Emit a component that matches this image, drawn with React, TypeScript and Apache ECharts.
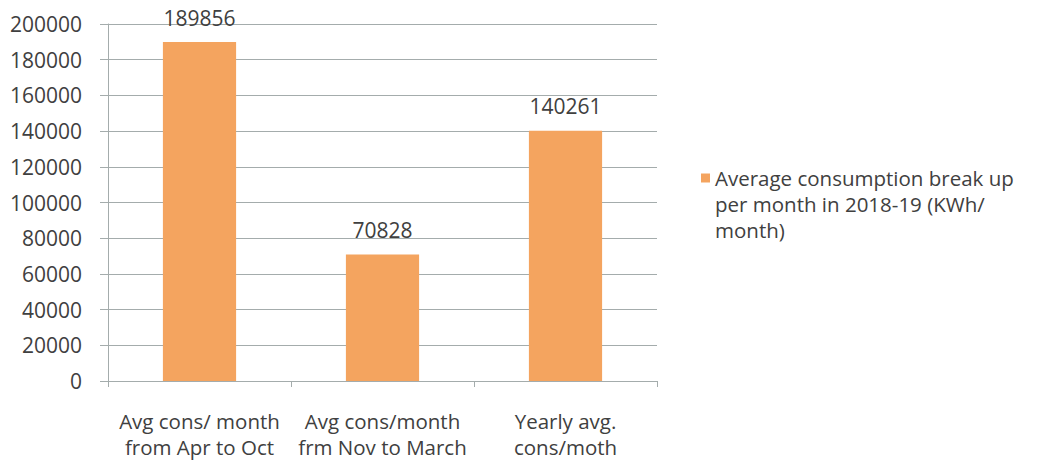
import React, { useEffect, useRef } from "react";
import * as echarts from "echarts";

const categories = [
  "Avg cons/ month\nfrom Apr to Oct",
  "Avg cons/month\nfrm Nov to March",
  "Yearly avg.\ncons/moth",
];
const values = [189856, 70828, 140261];
const yTicks = [0, 20000, 40000, 60000, 80000, 100000, 120000, 140000, 160000, 180000, 200000];
const seriesName = "Average consumption break up per month in 2018-19 (KWh/ month)";
const legendLines = ["Average consumption break up", "per month in 2018-19 (KWh/", "month)"];

const FONT = "'Open Sans', 'Noto Sans', sans-serif";
const TEXT = "#404040";
const GRID = "#a4acac";
const BAR = "#F4A45F";

export default function App() {
  const ref = useRef<HTMLDivElement>(null);
  useEffect(() => {
    if (!ref.current) return;
    const chart = echarts.init(ref.current, undefined, { renderer: "svg" });
    chart.setOption({
      animation: false,
      backgroundColor: "#ffffff",
      textStyle: { fontFamily: FONT },
      grid: { left: 108, top: 24, right: 380, bottom: 82, containLabel: false },
      legend: {
        show: true,
        left: 696,
        top: 108,
        orient: "vertical",
        icon: "rect",
        itemWidth: 9,
        itemHeight: 9,
        itemGap: 0,
        formatter: () => "\n\n" + legendLines.join("\n"),
        textStyle: {
          fontFamily: FONT,
          fontSize: 20.5,
          color: TEXT,
          lineHeight: 26,
        },
        data: [seriesName],
      },
      xAxis: {
        type: "category",
        data: categories,
        axisLine: { show: true, lineStyle: { color: GRID, width: 1 } },
        axisTick: { show: true, length: 6, lineStyle: { color: GRID } },
        axisLabel: {
          interval: 0,
          color: TEXT,
          fontFamily: FONT,
          fontSize: 20.5,
          lineHeight: 26,
          margin: 27,
        },
      },
      yAxis: {
        type: "value",
        min: yTicks[0],
        max: yTicks[yTicks.length - 1],
        interval: yTicks[1] - yTicks[0],
        axisLine: { show: true, lineStyle: { color: GRID, width: 1 } },
        axisTick: { show: true, length: 8, lineStyle: { color: GRID } },
        splitLine: { show: true, lineStyle: { color: GRID, width: 1 } },
        axisLabel: {
          color: TEXT,
          fontFamily: FONT,
          fontSize: 21,
          margin: 26,
          formatter: (v: number) => String(v),
        },
      },
      series: [
        {
          name: seriesName,
          type: "bar",
          data: values,
          barWidth: "40%",
          itemStyle: { color: BAR },
          label: {
            show: true,
            position: "top",
            distance: 14,
            color: TEXT,
            fontFamily: FONT,
            fontSize: 21,
          },
        },
      ],
    });
    return () => chart.dispose();
  }, []);
  return (
    <div
      ref={ref}
      style={{ position: "fixed", left: 0, top: 0, width: 1037, height: 463, background: "#fff" }}
    />
  );
}
